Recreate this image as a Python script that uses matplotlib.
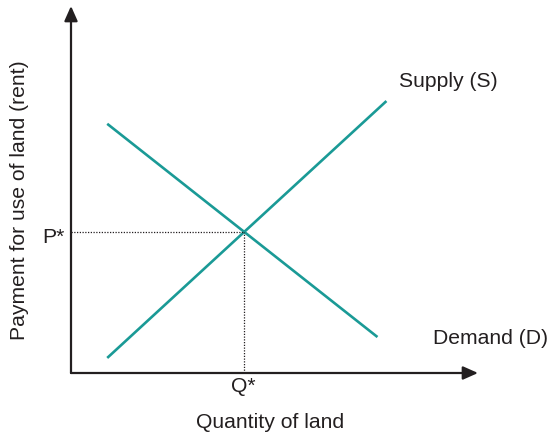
import matplotlib
matplotlib.use("Agg")
import matplotlib.pyplot as plt

plt.rcParams["font.family"] = "Liberation Sans"

## Curve end points in (quantity, price) units
supply_q = [0.89, 7.75]
supply_p = [0.41, 7.41]
demand_q = [0.89, 7.53]
demand_p = [6.79, 0.98]

## Equilibrium
q_star = 4.24
p_star = 3.84

teal = "#1a9a96"
ink = "#231f20"
font_size = 15.2

W, H = 548, 437
fig = plt.figure(figsize=(W / 100, H / 100), dpi=100)
x0, y0 = 71, 373
x1, y1 = 478, 6
ax = fig.add_axes([x0 / W, (H - y0) / H, (x1 - x0) / W, (y0 - y1) / H])
ax.set_xlim(0, 10)
ax.set_ylim(0, 10)
ax.axis("off")
ax.patch.set_alpha(0)

## Axes with arrow heads
arrow = dict(arrowstyle="-|>,head_length=0.9,head_width=0.4", color=ink, lw=1.6,
             shrinkA=0, shrinkB=0)
ax.annotate("", xy=(0, 10), xytext=(0, 0), arrowprops=arrow, annotation_clip=False)
ax.annotate("", xy=(10, 0), xytext=(0, 0), arrowprops=arrow, annotation_clip=False)

## Supply and demand
ax.plot(supply_q, supply_p, color=teal, lw=1.9, solid_capstyle="butt")
ax.plot(demand_q, demand_p, color=teal, lw=1.9, solid_capstyle="butt")

## Dotted guides
ax.plot([0, q_star], [p_star, p_star], color=ink, lw=0.9, ls=(0, (1, 1.2)))
ax.plot([q_star, q_star], [0, p_star], color=ink, lw=0.9, ls=(0, (1, 1.2)))

## Labels
ax.text(-0.15, 3.68, "P*", ha="right", va="center", fontsize=font_size, color=ink)
ax.text(q_star, -0.12, "Q*", ha="center", va="top", fontsize=font_size, color=ink)
ax.text(8.05, 7.93, "Supply (S)", ha="left", va="center", fontsize=font_size, color=ink)
ax.text(8.89, 0.95, "Demand (D)", ha="left", va="center", fontsize=font_size, color=ink)
fig.text(270 / W, 1 - 423 / H, "Quantity of land", ha="center", va="center",
         fontsize=font_size, color=ink)
fig.text(20 / W, 1 - 200 / H, "Payment for use of land (rent)", ha="center", va="center",
         rotation=90, fontsize=font_size, color=ink)

fig.savefig("out.png", dpi=100)
